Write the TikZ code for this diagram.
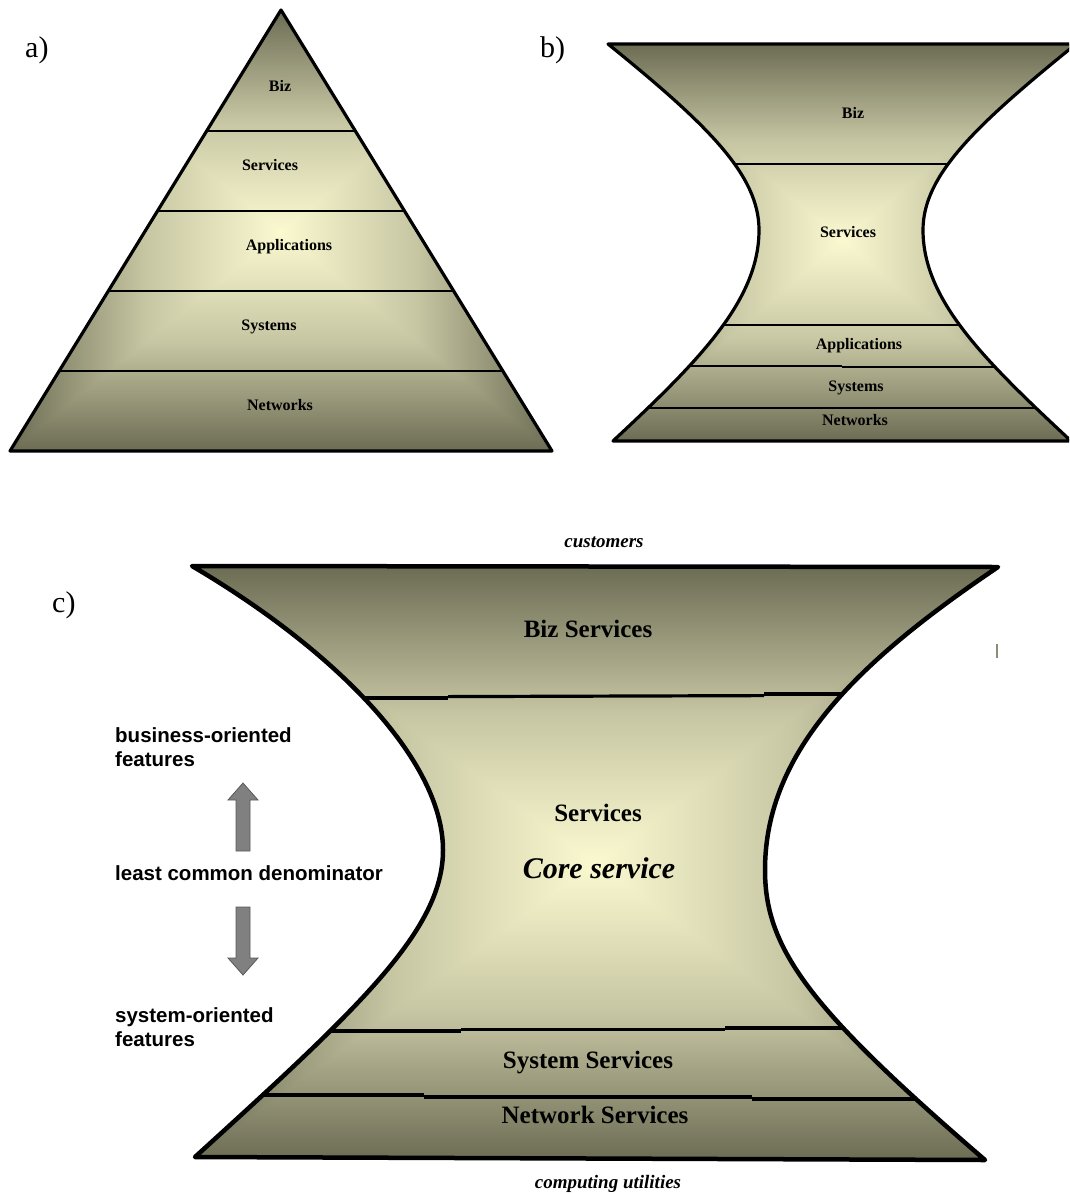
\documentclass[tikz,border=0pt]{standalone}
\usepackage{fontspec}
\setmainfont{Liberation Serif}
\newfontfamily\arialfam{Liberation Sans}

\definecolor{olivedark}{RGB}{108,108,84}
\definecolor{olivelight}{RGB}{250,249,208}
\colorlet{olivemid}{olivelight!64!olivedark}
\definecolor{arrowgray}{RGB}{128,128,128}
\definecolor{tickgray}{RGB}{140,140,120}

% rectangular "from centre" gradient: #1,#2 centre, #3,#4 top-left, #5,#6 bottom-right
\newcommand\rectgradient[6]{%
  \shade[left color=olivedark, right color=olivelight, middle color=olivemid] (#3,#4) rectangle (#1,#6);
  \shade[left color=olivelight, right color=olivedark, middle color=olivemid] (#1,#4) rectangle (#5,#6);
  \shade[top color=olivedark, bottom color=olivelight, middle color=olivemid] (#1,#2) -- (#3,#4) -- (#5,#4) -- cycle;
  \shade[top color=olivelight, bottom color=olivedark, middle color=olivemid] (#1,#2) -- (#3,#6) -- (#5,#6) -- cycle;
}

\begin{document}
\begin{tikzpicture}[x=1pt, y=-1pt,
  panel/.style={font=\fontsize{30}{32}\selectfont, anchor=base west, inner sep=0},
  layer/.style={font=\bfseries\fontsize{16}{18}\selectfont, anchor=base, inner sep=0},
  biglayer/.style={font=\bfseries\fontsize{25}{28}\selectfont, anchor=base, inner sep=0},
  corelabel/.style={font=\bfseries\itshape\fontsize{30}{32}\selectfont, anchor=base, inner sep=0},
  endlabel/.style={font=\bfseries\itshape\fontsize{19}{21}\selectfont, anchor=base, inner sep=0},
  sidelabel/.style={font=\arialfam\bfseries\fontsize{20.5}{24}\selectfont, anchor=base west, inner sep=0},
  outlinethin/.style={line width=3.2pt, line join=round},
  outlinethick/.style={line width=4.5pt, line join=round},
  bandline/.style={line width=2.6pt},
  bandlinethick/.style={line width=3.2pt},
  fatarrow/.style={fill=arrowgray, draw=black!65, line width=0.8pt, line join=miter}]

\useasboundingbox (0,0) rectangle (1069,1194);
\clip (0,0) rectangle (1069,1194);

% ---------------- a) pyramid ----------------
\begin{scope}
  \clip (281,10) -- (10,451) -- (552,451) -- cycle;
  \rectgradient{281}{232}{10}{10}{552}{451}
  \foreach \yy in {131,211,291,371}
    \draw[bandline] (0,\yy) -- (560,\yy);
\end{scope}
\draw[outlinethin] (281,10) -- (10,451) -- (552,451) -- cycle;

\node[panel] (labela) at (25,57) {a)};
\node[layer] (abiz) at (280,91) {Biz};
\node[layer] (aserv) at (270,170) {Services};
\node[layer] (aapps) at (289,250) {Applications};
\node[layer] (asys) at (269,330) {Systems};
\node[layer] (anet) at (280,410) {Networks};

% ---------------- b) hourglass ----------------
\begin{scope}
  \clip (608,44) .. controls (708,125) and (759,175) .. (759,230)
        .. controls (759,300) and (700,360) .. (613,441) -- (1071,441)
        .. controls (984,360) and (923,300) .. (923,230)
        .. controls (923,175) and (976,125) .. (1076,44) -- cycle;
  \rectgradient{842}{240}{608}{44}{1076}{441}
  \draw[bandline] (600,164) -- (1080,164);
  \draw[bandline] (600,325) -- (1080,325);
  \draw[bandline] (600,366) -- (842,366);
  \draw[bandline] (842,367) -- (1080,367);
  \draw[bandline] (600,408) -- (1080,408);
\end{scope}
\draw[outlinethin] (608,44) .. controls (708,125) and (759,175) .. (759,230)
        .. controls (759,300) and (700,360) .. (613,441) -- (1071,441)
        .. controls (984,360) and (923,300) .. (923,230)
        .. controls (923,175) and (976,125) .. (1076,44) -- cycle;

\node[panel] (labelb) at (540,57) {b)};
\node[layer] (bbiz) at (853,118) {Biz};
\node[layer] (bserv) at (848,237) {Services};
\node[layer] (bapps) at (859,349) {Applications};
\node[layer] (bsys) at (856,391) {Systems};
\node[layer] (bnet) at (855,425) {Networks};

% ---------------- c) service hourglass ----------------
\begin{scope}
  \clip (192,566) .. controls (335,650) and (443,760) .. (443,850)
        .. controls (443,930) and (360,1007) .. (195,1157) -- (985,1160)
        .. controls (811,1010) and (765,950) .. (765,870)
        .. controls (765,750) and (860,660) .. (998,567) -- cycle;
  \rectgradient{595}{863}{192}{566}{998}{1160}
  \draw[bandlinethick] (300,698) -- (448,698);
  \draw[bandlinethick] (448,696.6) -- (764,695.6);
  \draw[bandlinethick] (764,694) -- (900,694);
  \draw[bandlinethick] (300,1031) -- (461,1031);
  \draw[bandlinethick] (461,1029.5) -- (725,1029.5);
  \draw[bandlinethick] (725,1028) -- (900,1028);
  \draw[bandlinethick] (230,1095) -- (424,1095);
  \draw[bandlinethick] (424,1097) -- (752,1097);
  \draw[bandlinethick] (752,1099) -- (960,1099);
\end{scope}
\draw[outlinethick] (192,566) .. controls (335,650) and (443,760) .. (443,850)
        .. controls (443,930) and (360,1007) .. (195,1157) -- (985,1160)
        .. controls (811,1010) and (765,950) .. (765,870)
        .. controls (765,750) and (860,660) .. (998,567) -- cycle;

\node[panel] (labelc) at (52,612) {c)};
\node[endlabel] (cust) at (604,547) {customers};
\node[endlabel] (util) at (608,1188) {computing utilities};
\node[biglayer] (cbiz) at (588,637) {Biz Services};
\node[biglayer] (cserv) at (598,821) {Services};
\node[corelabel] (ccore) at (599,878) {Core service};
\node[biglayer] (csys) at (588,1068) {System Services};
\node[biglayer] (cnet) at (595,1123) {Network Services};

% side notes
\node[sidelabel] (bizfeat) at (115,742) {business-oriented};
\node[sidelabel] (bizfeatb) at (115,766) {features};
\node[sidelabel] (lcd) at (115,880) {least common denominator};
\node[sidelabel] (sysfeat) at (115,1022) {system-oriented};
\node[sidelabel] (sysfeatb) at (115,1046) {features};

% block arrows
\draw[fatarrow] (243,783) -- (258,800) -- (250,800) -- (250,851) -- (236,851)
  -- (236,800) -- (228,800) -- cycle;
\draw[fatarrow] (243,975) -- (258,958) -- (250,958) -- (250,907) -- (236,907)
  -- (236,958) -- (228,958) -- cycle;

% stray tick mark at the right edge
\draw[tickgray, line width=1.2pt] (997,644) -- (997,658);

\end{tikzpicture}
\end{document}
